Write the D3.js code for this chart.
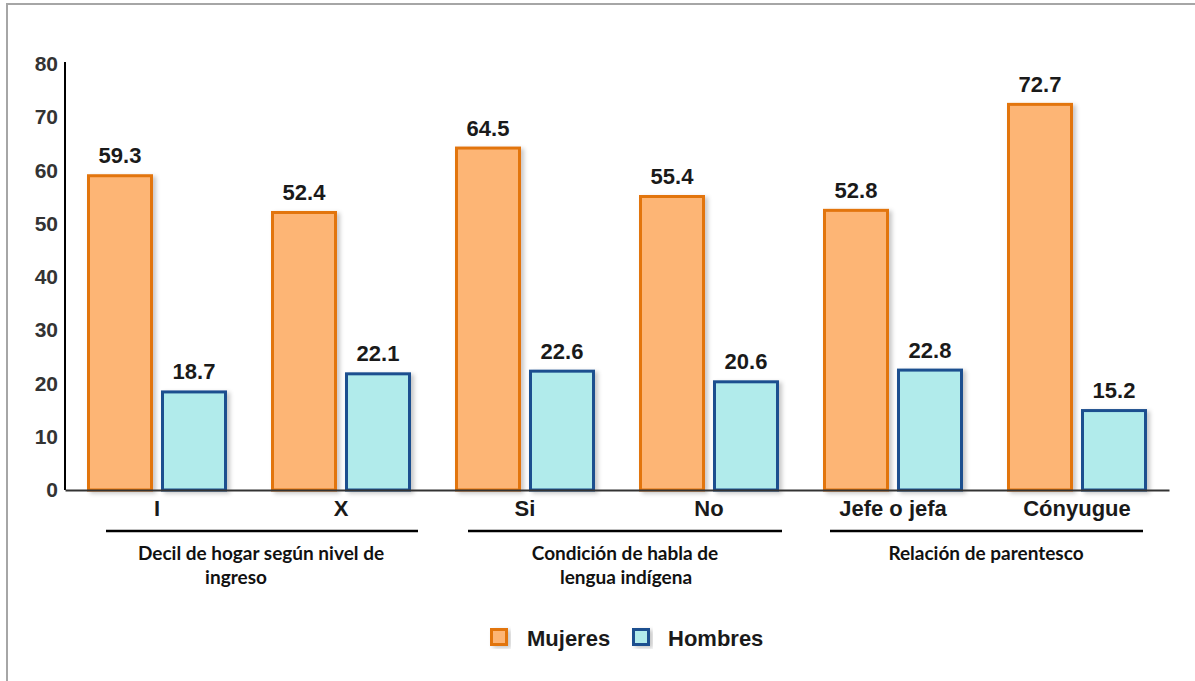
<!DOCTYPE html>
<html><head><meta charset="utf-8">
<script src="https://cdn.jsdelivr.net/npm/d3@7"></script>
<style>body{margin:0;background:#fff}svg{display:block}</style>
</head><body>
<svg id="chart" width="1195" height="681"></svg>
<script>
const categories = ["I", "X", "Si", "No", "Jefe o jefa", "Cónyugue"];
const mujeres = [59.3, 52.4, 64.5, 55.4, 52.8, 72.7];
const hombres = [18.7, 22.1, 22.6, 20.6, 22.8, 15.2];
const seriesNames = ["Mujeres", "Hombres"];
const groupLabels = [
  ["Decil de hogar según nivel de", "ingreso"],
  ["Condición de habla de", "lengua indígena"],
  ["Relación de parentesco"]
];
const yTicks = [0, 10, 20, 30, 40, 50, 60, 70, 80];

const svg = d3.select("#chart");
const fills = ["#FDB574", "#B1EBEB"];
const strokes = ["#E2740F", "#1B4F8F"];
const AR = "Liberation Sans, Arial, sans-serif";

const defs = svg.append("defs");
const f = defs.append("filter").attr("id","sh").attr("x","-20%").attr("y","-20%").attr("width","150%").attr("height","150%");
f.append("feDropShadow").attr("dx",3).attr("dy",2).attr("stdDeviation",2).attr("flood-color","#000").attr("flood-opacity",0.22);

// frame
svg.append("path").attr("d","M7,681 V4 H1195").attr("fill","none").attr("stroke","#A6A6A6").attr("stroke-width",2);

const x0 = 65, x1 = 1169;
const x = d3.scaleBand().domain(categories).range([x0, x1]).paddingInner(0).paddingOuter(0);
const xs = d3.scaleBand().domain(seriesNames).range([22, x.bandwidth() - 22]).paddingInner(0.108);
const y = d3.scaleLinear().domain([0, 80]).range([490, 64]);

// y axis
const yAxis = svg.append("g").attr("transform", `translate(${x0},0)`)
  .call(d3.axisLeft(y).tickValues(yTicks).tickSize(0).tickPadding(7));
yAxis.select(".domain").attr("stroke","#000").attr("stroke-width",2).attr("d", `M0,${y(0)}V62`);
yAxis.selectAll("text").attr("font-family",AR).attr("font-weight","bold")
  .attr("font-size",21).attr("fill","#333");

// bars
const data = categories.map((c,i)=>({c, v:[mujeres[i], hombres[i]]}));
const g = svg.append("g");
data.forEach(d=>{
  seriesNames.forEach((s,j)=>{
    const bx = x(d.c) + xs(s), bw = xs.bandwidth();
    g.append("rect").attr("x", bx+1.5).attr("y", y(d.v[j])+1.5)
      .attr("width", bw-3).attr("height", y(0)-y(d.v[j])-1.5)
      .attr("fill", fills[j]).attr("stroke", strokes[j]).attr("stroke-width",3)
      .attr("filter","url(#sh)");
    g.append("text").attr("x", bx+bw/2).attr("y", y(d.v[j])-11)
      .attr("text-anchor","middle").attr("font-family",AR)
      .attr("font-weight","bold").attr("font-size",22).attr("fill","#1a1a1a")
      .text(d.v[j].toFixed(1));
  });
});

// x axis
const xAxis = svg.append("g").attr("transform", `translate(0,${y(0)})`)
  .call(d3.axisBottom(x).tickSize(0).tickPadding(10));
xAxis.select(".domain").attr("stroke","#333").attr("stroke-width",2);
xAxis.selectAll("text").attr("font-family",AR).attr("font-weight","bold")
  .attr("font-size",22).attr("fill","#1a1a1a");

// group brackets & labels
const insetL = [41, 35, 29], insetR = [15, 19, 26];
const labelDx = [[12, -13], [8, 9], [1]];
groupLabels.forEach((lines, k)=>{
  const a = categories[2*k], b = categories[2*k+1];
  const lx0 = x(a) + insetL[k], lx1 = x(b) + x.bandwidth() - insetR[k];
  svg.append("line").attr("x1",lx0).attr("x2",lx1).attr("y1",531).attr("y2",531)
    .attr("stroke","#000").attr("stroke-width",2.5);
  const cx = x(a) + x.bandwidth();
  lines.forEach((t,li)=>{
    svg.append("text").attr("x", cx + labelDx[k][li]).attr("y", 560 + li*24)
      .attr("text-anchor","middle").attr("font-family","Lato, 'Open Sans', sans-serif")
      .attr("font-weight","bold").attr("font-size",19).attr("fill","#111").text(t);
  });
});

// legend
const leg = svg.append("g");
const legX = [490, 632], legTX = [527, 668];
seriesNames.forEach((s,j)=>{
  leg.append("rect").attr("x", legX[j]+1.5).attr("y", 629.5).attr("width",15).attr("height",15)
    .attr("fill", fills[j]).attr("stroke", strokes[j]).attr("stroke-width",3).attr("filter","url(#sh)");
  leg.append("text").attr("x", legTX[j]).attr("y", 646).attr("font-family",AR)
    .attr("font-weight","bold").attr("font-size",22).attr("fill","#1a1a1a").text(s);
});
</script>
</body></html>
